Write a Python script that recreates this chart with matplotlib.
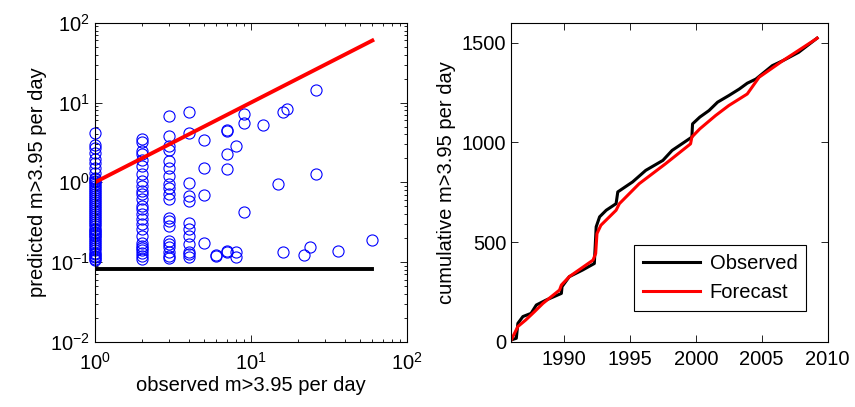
import numpy as np
import matplotlib
matplotlib.use('Agg')
import matplotlib.pyplot as plt

plt.rcParams['font.family'] = ['Liberation Sans', 'DejaVu Sans']
plt.rcParams['mathtext.fontset'] = 'custom'
plt.rcParams['mathtext.rm'] = 'Liberation Sans'

# predicted rate for days with 1, 2, 3, 4 observed events
pred_at_1 = [4.18, 2.98, 2.71, 2.35, 1.94, 1.76, 1.53, 1.32, 1.14, 1.1, 1.05, 1.0,
             0.95, 0.9, 0.85, 0.8, 0.76, 0.72, 0.68, 0.64, 0.6, 0.57, 0.54, 0.51,
             0.48, 0.45, 0.42, 0.4, 0.38, 0.36, 0.34, 0.32, 0.3, 0.28, 0.26, 0.25,
             0.24, 0.23, 0.22, 0.21, 0.2, 0.19, 0.18, 0.17, 0.16, 0.15, 0.14, 0.13,
             0.125, 0.12, 0.115, 0.11, 0.105]
pred_at_2 = [3.45, 3.2, 2.46, 2.24, 1.9, 1.6, 1.26, 1.04, 0.9, 0.78, 0.71, 0.61,
             0.5, 0.46, 0.4, 0.345, 0.3, 0.26, 0.21, 0.176, 0.16, 0.15, 0.14,
             0.13, 0.12, 0.11]
pred_at_3 = [6.7, 3.8, 2.84, 2.58, 1.85, 1.53, 1.2, 0.94, 0.86, 0.71, 0.61, 0.36,
             0.33, 0.28, 0.185, 0.168, 0.153, 0.132, 0.12, 0.112]
pred_at_4 = [7.56, 4.18, 0.99, 0.675, 0.58, 0.31, 0.26, 0.21, 0.168, 0.132, 0.126,
             0.115]
# remaining days with more events
other_obs = [26, 16, 17, 9, 9, 12, 7, 7, 5, 8, 7, 5, 7, 26, 15, 5, 9, 5, 6, 6,
             7, 7, 8, 8, 16, 22, 24, 36, 60]
other_pred = [14.2, 7.56, 8.3, 7.2, 5.5, 5.3, 4.5, 4.4, 3.35, 2.84, 2.24, 1.53,
              1.48, 1.28, 0.94, 0.69, 0.43, 0.176, 0.123, 0.118, 0.138, 0.133,
              0.132, 0.117, 0.135, 0.122, 0.153, 0.136, 0.19]

one_to_one = [1, 60]
background = 0.082

# cumulative counts
obs_year = [1986.0, 1986.38, 1986.5, 1986.88, 1987.5, 1987.9, 1988.65, 1989.8,
            1989.85, 1990.4, 1991.4, 1992.3, 1992.44, 1992.7, 1993.2, 1993.95,
            1994.08, 1995.2, 1996.2, 1997.5, 1998.2, 1999.5, 1999.7, 1999.75,
            2000.3, 2001.0, 2001.65, 2002.5, 2003.3, 2003.9, 2004.56, 2005.8,
            2006.6, 2007.8, 2009.1, 2009.2]
obs_count = [10, 18, 93, 127, 143, 185, 210, 243, 277, 327, 360, 393, 577, 627,
             660, 693, 752, 802, 860, 910, 960, 1018, 1027, 1093, 1127, 1160,
             1202, 1235, 1268, 1297, 1318, 1385, 1410, 1452, 1518, 1523]
fc_year = [1986.0, 1986.5, 1987.1, 1987.77, 1988.4, 1989.66, 1989.8, 1990.4,
           1992.2, 1992.4, 1992.5, 1992.8, 1993.95, 1994.2, 1995.7, 1997.7,
           1999.6, 1999.7, 2000.3, 2001.5, 2002.5, 2003.9, 2004.8, 2006.6,
           2009.1, 2009.2]
fc_count = [10, 77, 110, 152, 193, 260, 285, 327, 410, 443, 543, 585, 660, 693,
            793, 893, 993, 1027, 1068, 1135, 1185, 1243, 1327, 1410, 1518, 1523]

fs = 14.5
fig = plt.figure(figsize=(8.55, 4.07), dpi=100)
ax1 = fig.add_axes([0.111, 0.160, 0.365, 0.784])
ax2 = fig.add_axes([0.598, 0.160, 0.370, 0.784])

mk = dict(linestyle='none', marker='o', markersize=8, markerfacecolor='none',
          markeredgecolor='#0000ff', markeredgewidth=0.8, clip_on=False)
for xv, ys in [(1, pred_at_1), (2, pred_at_2), (3, pred_at_3), (4, pred_at_4)]:
    ax1.plot([xv] * len(ys), ys, **mk)
ax1.plot(other_obs, other_pred, **mk)
ax1.plot(one_to_one, one_to_one, color='#ff0000', lw=2.8)
ax1.plot(one_to_one, [background, background], color='black', lw=2.8)
ax1.set_xscale('log')
ax1.set_yscale('log')
ax1.set_xlim(1, 100)
ax1.set_ylim(0.01, 100)
ax1.set_xlabel('observed m>3.95 per day', fontsize=fs, labelpad=2)
ax1.set_ylabel('predicted m>3.95 per day', fontsize=fs, labelpad=2)

ax2.plot(obs_year, obs_count, color='black', lw=2.2, label='Observed')
ax2.plot(fc_year, fc_count, color='#ff0000', lw=2.2, label='Forecast')
ax2.set_xlim(1986, 2010)
ax2.set_ylim(0, 1600)
ax2.set_xticks([1990, 1995, 2000, 2005, 2010])
ax2.set_yticks([0, 500, 1000, 1500])
ax2.set_ylabel('cumulative m>3.95 per day', fontsize=fs, labelpad=4)
leg = ax2.legend(loc='lower right', bbox_to_anchor=(0.965, 0.065), fontsize=fs,
                 fancybox=False, edgecolor='black', framealpha=1,
                 handlelength=2.8, handletextpad=0.5, borderpad=0.45,
                 labelspacing=0.5)
leg.get_frame().set_linewidth(0.8)

for ax in (ax1, ax2):
    ax.tick_params(which='both', direction='in', top=True, right=True,
                   labelsize=fs, width=0.6)
    ax.tick_params(which='major', length=5)
    ax.tick_params(which='minor', length=2.5)
    for s in ax.spines.values():
        s.set_linewidth(0.8)
ax1.tick_params(axis='x', which='major', pad=7)
ax2.tick_params(axis='x', which='major', pad=6)

fig.savefig('out.png', dpi=100)
